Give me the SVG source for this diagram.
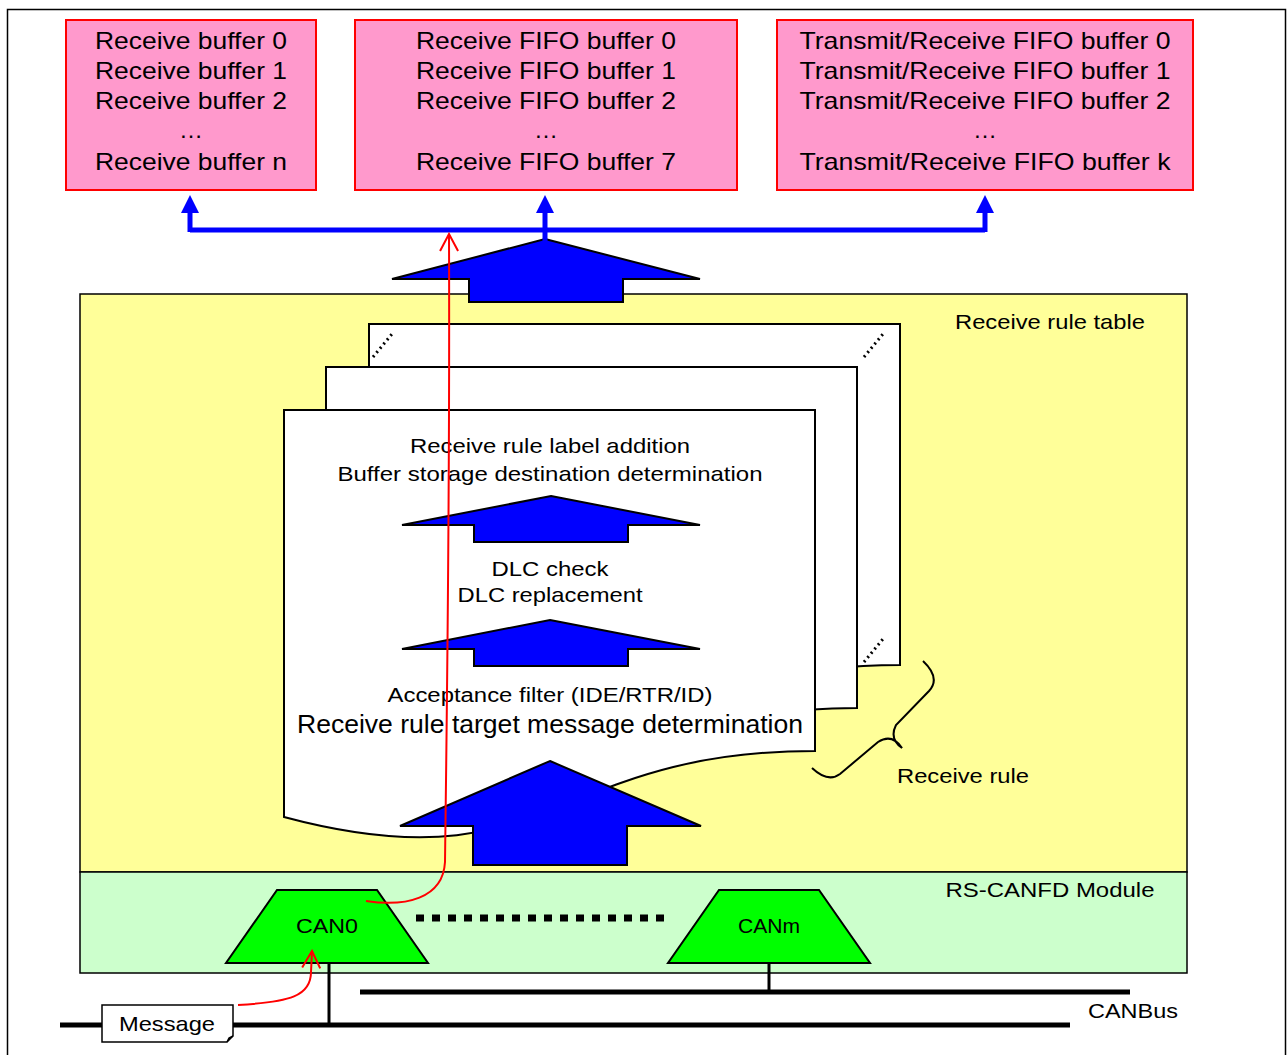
<svg xmlns="http://www.w3.org/2000/svg" width="1287" height="1055" viewBox="0 0 1287 1055">
  <defs>
    <style>
      text { font-family: "Liberation Sans", Arial, sans-serif; fill: #000; }
      .buf { fill: #FF99CC; stroke: #FF0000; stroke-width: 2; }
      .buftxt { font-size: 24px; text-anchor: middle; }
      .fat { fill: #0000FF; stroke: #000; stroke-width: 2; stroke-linejoin: miter; }
      .page { fill: #FFFFFF; stroke: #000; stroke-width: 2; }
      .lbl { font-size: 21px; text-anchor: middle; }
      .can { fill: #00FF00; stroke: #000; stroke-width: 2; }
      .bus { stroke: #000; stroke-width: 5; fill: none; }
      .stem { stroke: #000; stroke-width: 3; fill: none; }
      .flow { stroke: #FF0000; stroke-width: 2; fill: none; }
      .dots { stroke: #000; stroke-width: 3; stroke-dasharray: 2 3.5; fill: none; }
    </style>
    <marker id="open" viewBox="0 0 20 20" refX="18" refY="10" markerWidth="20" markerHeight="20" markerUnits="userSpaceOnUse" orient="auto">
      <path d="M1,1 L18,10 L1,19" fill="none" stroke="#FF0000" stroke-width="2"/>
    </marker>
    <marker id="blueHead" viewBox="0 0 20 20" refX="2" refY="10" markerWidth="20" markerHeight="20" markerUnits="userSpaceOnUse" orient="auto">
      <path d="M0,1 L18,10 L0,19 Z" fill="#0000FF"/>
    </marker>
    <path id="sheet" d="M0,0 H531 V341 C265,341 265,478 0,407 Z"/>
  </defs>

  <!-- outer frame -->
  <rect x="7.5" y="9.5" width="1278" height="1060" fill="#FFFFFF" stroke="#000" stroke-width="1.5"/>

  <!-- buffers -->
  <g id="receive-buffers">
    <rect class="buf" x="66" y="20" width="250" height="170"/>
    <text class="buftxt" x="191" y="49" textLength="192" lengthAdjust="spacingAndGlyphs">Receive buffer 0</text>
    <text class="buftxt" x="191" y="79" textLength="192" lengthAdjust="spacingAndGlyphs">Receive buffer 1</text>
    <text class="buftxt" x="191" y="109" textLength="192" lengthAdjust="spacingAndGlyphs">Receive buffer 2</text>
    <text class="buftxt" x="191" y="138">…</text>
    <text class="buftxt" x="191" y="170" textLength="192" lengthAdjust="spacingAndGlyphs">Receive buffer n</text>
  </g>
  <g id="receive-fifo-buffers">
    <rect class="buf" x="355" y="20" width="382" height="170"/>
    <text class="buftxt" x="546" y="49" textLength="260" lengthAdjust="spacingAndGlyphs">Receive FIFO buffer 0</text>
    <text class="buftxt" x="546" y="79" textLength="260" lengthAdjust="spacingAndGlyphs">Receive FIFO buffer 1</text>
    <text class="buftxt" x="546" y="109" textLength="260" lengthAdjust="spacingAndGlyphs">Receive FIFO buffer 2</text>
    <text class="buftxt" x="546" y="138">…</text>
    <text class="buftxt" x="546" y="170" textLength="260" lengthAdjust="spacingAndGlyphs">Receive FIFO buffer 7</text>
  </g>
  <g id="txrx-fifo-buffers">
    <rect class="buf" x="777" y="20" width="416" height="170"/>
    <text class="buftxt" x="985" y="49" textLength="371" lengthAdjust="spacingAndGlyphs">Transmit/Receive FIFO buffer 0</text>
    <text class="buftxt" x="985" y="79" textLength="371" lengthAdjust="spacingAndGlyphs">Transmit/Receive FIFO buffer 1</text>
    <text class="buftxt" x="985" y="109" textLength="371" lengthAdjust="spacingAndGlyphs">Transmit/Receive FIFO buffer 2</text>
    <text class="buftxt" x="985" y="138">…</text>
    <text class="buftxt" x="985" y="170" textLength="371" lengthAdjust="spacingAndGlyphs">Transmit/Receive FIFO buffer k</text>
  </g>

  <!-- receive rule table -->
  <g id="receive-rule-table">
    <rect x="80" y="294" width="1107" height="578" fill="#FFFF99" stroke="#000" stroke-width="1.5"/>
    <text class="lbl" x="1050" y="329" textLength="190" lengthAdjust="spacingAndGlyphs">Receive rule table</text>
  </g>

  <!-- stacked rule sheets -->
  <g id="receive-rule">
    <use href="#sheet" class="page" x="369" y="324"/>
    <path class="dots" d="M373,357 L392,334"/>
    <path class="dots" d="M864,357 L883,334"/>
    <path class="dots" d="M864,662 L883,639"/>
    <use href="#sheet" class="page" x="326" y="367"/>
    <use href="#sheet" class="page" x="284" y="410"/>
    <text class="lbl" x="550" y="453" textLength="280" lengthAdjust="spacingAndGlyphs">Receive rule label addition</text>
    <text class="lbl" x="550" y="481" textLength="425" lengthAdjust="spacingAndGlyphs">Buffer storage destination determination</text>
    <polygon class="fat" points="551,496 700,525 628,525 628,542 474,542 474,525 402,525"/>
    <text class="lbl" x="550" y="576" textLength="117" lengthAdjust="spacingAndGlyphs">DLC check</text>
    <text class="lbl" x="550" y="602" textLength="185" lengthAdjust="spacingAndGlyphs">DLC replacement</text>
    <polygon class="fat" points="550,620 700,649 628,649 628,666 474,666 474,649 402,649"/>
    <text class="lbl" x="550" y="702" textLength="325" lengthAdjust="spacingAndGlyphs" style="font-size:20px">Acceptance filter (IDE/RTR/ID)</text>
    <text class="lbl" x="550" y="733" textLength="506" lengthAdjust="spacingAndGlyphs" style="font-size:25px">Receive rule target message determination</text>
    <path d="M923,661 Q941,678 929,691 L896,725 Q889,739 902,748 Q892,733 878,742 L840,774 Q828,783 812,768" fill="none" stroke="#000" stroke-width="2"/>
    <text class="lbl" x="963" y="783" textLength="132" lengthAdjust="spacingAndGlyphs">Receive rule</text>
  </g>

  <!-- RS-CANFD module -->
  <g id="rs-canfd-module">
    <rect x="80" y="872" width="1107" height="101" fill="#CCFFCC" stroke="#000" stroke-width="1.5"/>
    <text class="lbl" x="1050" y="897" textLength="209" lengthAdjust="spacingAndGlyphs">RS-CANFD Module</text>
  </g>

  <!-- large input arrow into the rule table -->
  <g id="input-arrow">
    <polygon class="fat" points="550,761 701,826 627,826 627,865 473,865 473,826 400,826"/>
  </g>

  <!-- output arrow to buffer bus -->
  <g id="output-arrow">
    <polygon class="fat" points="545,239 700,279 623,279 623,302 469,302 469,279 392,279"/>
  </g>

  <g id="can0">
    <polygon class="can" points="277,890 377,890 428,963 226,963"/>
    <text class="lbl" x="327" y="933" textLength="62" lengthAdjust="spacingAndGlyphs">CAN0</text>
  </g>
  <g id="canm">
    <polygon class="can" points="719,890 819,890 870,963 668,963"/>
    <text class="lbl" x="769" y="933" textLength="62" lengthAdjust="spacingAndGlyphs">CANm</text>
  </g>
  <path d="M416,918 H664" stroke="#000" stroke-width="7" stroke-dasharray="8 8" fill="none"/>

  <g id="canbus">
    <path class="bus" d="M360,992 H1130"/>
    <path class="bus" d="M60,1025 H1070"/>
    <text class="lbl" x="1133" y="1018" textLength="90" lengthAdjust="spacingAndGlyphs">CANBus</text>
  </g>

  <g id="message">
    <path d="M102,1005 H233 V1036 L227,1042 H102 Z" fill="#FFFFFF" stroke="#000" stroke-width="1.5"/>
    <path d="M227,1042 L229,1038 L233,1036" fill="#000" stroke="#000" stroke-width="1.5"/>
    <text class="lbl" x="167" y="1031" textLength="96" lengthAdjust="spacingAndGlyphs">Message</text>
  </g>

  <!-- connectors -->
  <g id="connectors">
    <!-- buffer distribution bus -->
    <path d="M190,230 H985" stroke="#0000FF" stroke-width="5" fill="none"/>
    <path d="M190,232 V211" stroke="#0000FF" stroke-width="5" fill="none" marker-end="url(#blueHead)"/>
    <path d="M545,241 V211" stroke="#0000FF" stroke-width="5" fill="none" marker-end="url(#blueHead)"/>
    <path d="M985,232 V211" stroke="#0000FF" stroke-width="5" fill="none" marker-end="url(#blueHead)"/>
    <!-- taps onto the CAN bus -->
    <path class="stem" d="M329,963 V1025"/>
    <path class="stem" d="M769,963 V992"/>
    <!-- message path -->
    <path class="flow" d="M238,1005 C290,1002 311,996 311,972 L312,951" marker-end="url(#open)"/>
    <path class="flow" d="M366,901 C405,907 443,899 445,862 C447,700 450,500 449,234" marker-end="url(#open)"/>
  </g>
</svg>
